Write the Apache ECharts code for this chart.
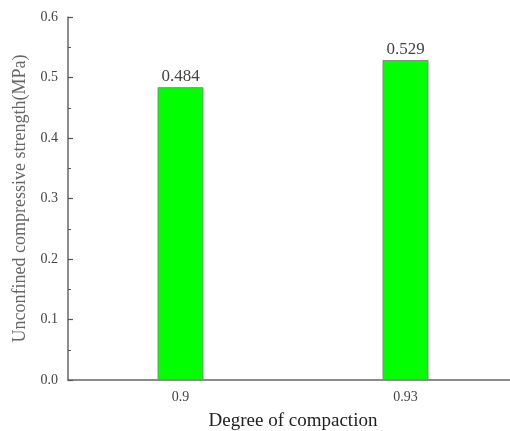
<!DOCTYPE html>
<html>
<head>
<meta charset="utf-8">
<script src="https://cdn.jsdelivr.net/npm/echarts@6/dist/echarts.min.js"></script>
<style>html,body{margin:0;padding:0;background:#fff;}#c{width:510px;height:431px;}</style>
</head>
<body>
<div id="c"></div>
<script>
var categories = ['0.9', '0.93'];
var strengthValues = [0.484, 0.529];
var yTicks = [0, 0.1, 0.2, 0.3, 0.4, 0.5, 0.6];

var chart = echarts.init(document.getElementById('c'), null, {renderer: 'canvas'});
var serif = '"Liberation Serif", "DejaVu Serif", serif';
chart.setOption({
  animation: false,
  backgroundColor: '#fff',
  grid: {left: 68, top: 17, width: 450, height: 363, containLabel: false, outerBoundsMode: 'none'},
  xAxis: {
    type: 'category',
    data: categories,
    name: 'Degree of compaction',
    nameLocation: 'middle',
    nameGap: 32,
    nameTextStyle: {fontFamily: serif, fontSize: 19, color: '#222'},
    axisLine: {lineStyle: {color: '#666', width: 1.5}},
    axisTick: {inside: true, alignWithLabel: true, length: 5, lineStyle: {color: '#555', width: 1.2}},
    axisLabel: {fontFamily: serif, fontSize: 14, color: '#444', margin: 10},
    splitLine: {show: false}
  },
  yAxis: {
    type: 'value',
    min: yTicks[0],
    max: yTicks[yTicks.length - 1],
    interval: 0.1,
    name: 'Unconfined compressive strength(MPa)',
    nameLocation: 'middle',
    nameGap: 32,
    nameTextStyle: {fontFamily: serif, fontSize: 18, color: '#666'},
    axisLine: {show: true, lineStyle: {color: '#666', width: 1.5}},
    axisTick: {show: true, inside: true, length: 5, lineStyle: {color: '#555', width: 1.2}},
    minorTick: {show: true, splitNumber: 2, length: 3, lineStyle: {color: '#555', width: 1}},
    axisLabel: {fontFamily: serif, fontSize: 14, color: '#444', margin: 10,
      formatter: function (v) { return v.toFixed(1); }},
    splitLine: {show: false}
  },
  series: [{
    type: 'bar',
    data: strengthValues,
    barWidth: 46,
    itemStyle: {color: '#00ff00', borderColor: '#888', borderWidth: 1},
    label: {show: true, position: 'top', distance: 2, fontFamily: serif, fontSize: 17, color: '#444',
      formatter: function (p) { return p.value.toFixed(3); }}
  }]
});
</script>
</body>
</html>
